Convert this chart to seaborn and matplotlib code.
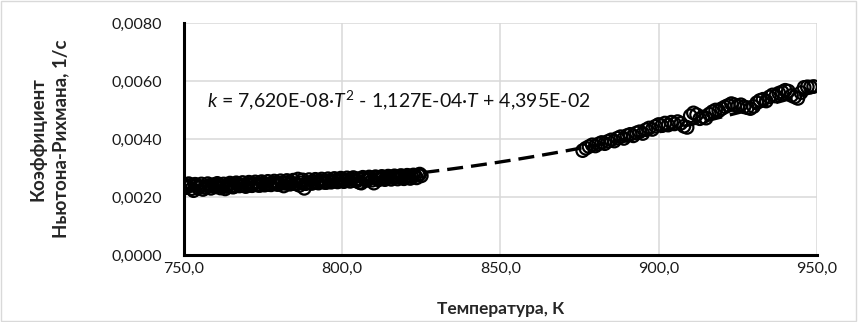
import numpy as np
import pandas as pd
import matplotlib
matplotlib.use("Agg")
import matplotlib.pyplot as plt
import seaborn as sns
from matplotlib.ticker import FuncFormatter

# ---- data ----
T_low = list(range(750, 826))
k_low = [0.00243, 0.00236, 0.00240, 0.00222, 0.00241, 0.00236, 0.00226, 0.00233, 0.00240, 0.00237,
         0.00235, 0.00241, 0.00238, 0.00228, 0.00243, 0.00239, 0.00237, 0.00245, 0.00242, 0.00240,
         0.00244, 0.00241, 0.00246, 0.00243, 0.00240, 0.00248, 0.00245, 0.00243, 0.00249, 0.00246,
         0.00244, 0.00249, 0.00247, 0.00251, 0.00248, 0.00246, 0.00262, 0.00249, 0.00230, 0.00250,
         0.00248, 0.00254, 0.00251, 0.00256, 0.00253, 0.00250, 0.00257, 0.00254, 0.00258, 0.00255,
         0.00259, 0.00256, 0.00260, 0.00262, 0.00258, 0.00263, 0.00248, 0.00264, 0.00261, 0.00266,
         0.00248, 0.00267, 0.00264, 0.00268, 0.00265, 0.00270, 0.00267, 0.00271, 0.00268, 0.00272,
         0.00269, 0.00273, 0.00270, 0.00274, 0.00276, 0.00273]
T_low_b = [750.5 + i for i in range(75)]
k_low_b = [0.00232, 0.00246, 0.00229, 0.00244, 0.00231, 0.00245, 0.00233, 0.00246, 0.00230, 0.00243,
           0.00247, 0.00231, 0.00245, 0.00236, 0.00248, 0.00234, 0.00249, 0.00238, 0.00250, 0.00236,
           0.00251, 0.00239, 0.00252, 0.00240, 0.00253, 0.00241, 0.00254, 0.00242, 0.00255, 0.00243,
           0.00256, 0.00238, 0.00257, 0.00244, 0.00258, 0.00245, 0.00240, 0.00259, 0.00246, 0.00260,
           0.00247, 0.00261, 0.00248, 0.00262, 0.00250, 0.00263, 0.00251, 0.00264, 0.00252, 0.00265,
           0.00253, 0.00266, 0.00254, 0.00267, 0.00255, 0.00250, 0.00268, 0.00257, 0.00269, 0.00258,
           0.00270, 0.00259, 0.00271, 0.00260, 0.00272, 0.00261, 0.00273, 0.00262, 0.00274, 0.00263,
           0.00275, 0.00264, 0.00276, 0.00266, 0.00279]
T_high = list(range(876, 950))
k_high = [0.00360, 0.00368, 0.00374, 0.00380, 0.00376, 0.00383, 0.00388, 0.00384, 0.00392, 0.00397,
          0.00393, 0.00403, 0.00408, 0.00402, 0.00412, 0.00416, 0.00411, 0.00421, 0.00425, 0.00419,
          0.00432, 0.00438, 0.00433, 0.00444, 0.00450, 0.00446, 0.00455, 0.00448, 0.00458, 0.00452,
          0.00460, 0.00454, 0.00444, 0.00440, 0.00480, 0.00490, 0.00484, 0.00470, 0.00476, 0.00472,
          0.00486, 0.00494, 0.00500, 0.00497, 0.00505, 0.00511, 0.00516, 0.00522, 0.00518, 0.00514,
          0.00518, 0.00511, 0.00508, 0.00505, 0.00512, 0.00525, 0.00533, 0.00537, 0.00531, 0.00545,
          0.00552, 0.00548, 0.00558, 0.00562, 0.00568, 0.00565, 0.00550, 0.00545, 0.00540, 0.00560,
          0.00578, 0.00580, 0.00579, 0.00581]
fit_coef = [7.620e-08, -1.127e-04, 4.395e-02]
x_ticks = [750, 800, 850, 900, 950]
y_ticks = [0.0, 0.002, 0.004, 0.006, 0.008]

sns.set_theme(style="white")
plt.rcParams['font.family'] = ['Lato', 'DejaVu Sans']
plt.rcParams['mathtext.fontset'] = 'custom'
plt.rcParams['mathtext.rm'] = 'Lato'
plt.rcParams['mathtext.it'] = 'Lato:italic'
plt.rcParams['mathtext.bf'] = 'Lato:bold'

pts = pd.DataFrame({"T": T_low + T_low_b + T_high, "k": k_low + k_low_b + k_high})
T_fit = np.linspace(750, 950, 400)
fit = pd.DataFrame({"T": T_fit, "k": np.polyval(fit_coef, T_fit)})

fig = plt.figure(figsize=(8.58, 3.22), dpi=100)
ax = fig.add_axes([0.2145, 0.208, 0.952 - 0.2145, 0.9286 - 0.208])

sns.lineplot(data=fit, x="T", y="k", ax=ax, color="black", linewidth=2.4,
             linestyle=(0, (4.8, 2.4)), zorder=2)
sns.scatterplot(data=pts, x="T", y="k", ax=ax, marker="o", s=82,
                facecolor="none", edgecolor="black", linewidth=1.6, zorder=3)

ax.set_xlim(750, 950)
ax.set_ylim(0, 0.008)
ax.set_xticks(x_ticks)
ax.set_yticks(y_ticks)
ax.xaxis.set_major_formatter(FuncFormatter(lambda v, p: f"{v:.1f}".replace(".", ",")))
ax.yaxis.set_major_formatter(FuncFormatter(lambda v, p: f"{v:.4f}".replace(".", ",")))
ax.grid(True, color="#d9d9d9", linewidth=1.1)
ax.set_axisbelow(True)
for s in ["top", "right"]:
    ax.spines[s].set_visible(False)
for s in ["left", "bottom"]:
    ax.spines[s].set_color("black")
    ax.spines[s].set_linewidth(2.2)
    ax.spines[s].set_zorder(4)
ax.tick_params(axis="both", length=0, labelsize=11.5, colors="#1a1a1a")
ax.tick_params(axis="y", pad=16)
ax.tick_params(axis="x", pad=5)
ax.set_xlabel("Температура, К", fontsize=12.5, fontweight="bold", labelpad=18)
ax.set_ylabel("Коэффициент\nНьютона-Рихмана, 1/с", fontsize=13.5, fontweight="bold",
              labelpad=30, linespacing=1.45)

ax.text(757.3, 0.00535,
        r"$k$ = 7,620E-08·$T^2$ - 1,127E-04·$T$ + 4,395E-02",
        fontsize=14, color="#111111", ha="left", va="center")

fig.patches.append(plt.Rectangle((0.001, 0.002), 0.997, 0.995, transform=fig.transFigure,
                                 fill=False, edgecolor="#d9d9d9", linewidth=1.0))
fig.savefig("out.png", dpi=100)
